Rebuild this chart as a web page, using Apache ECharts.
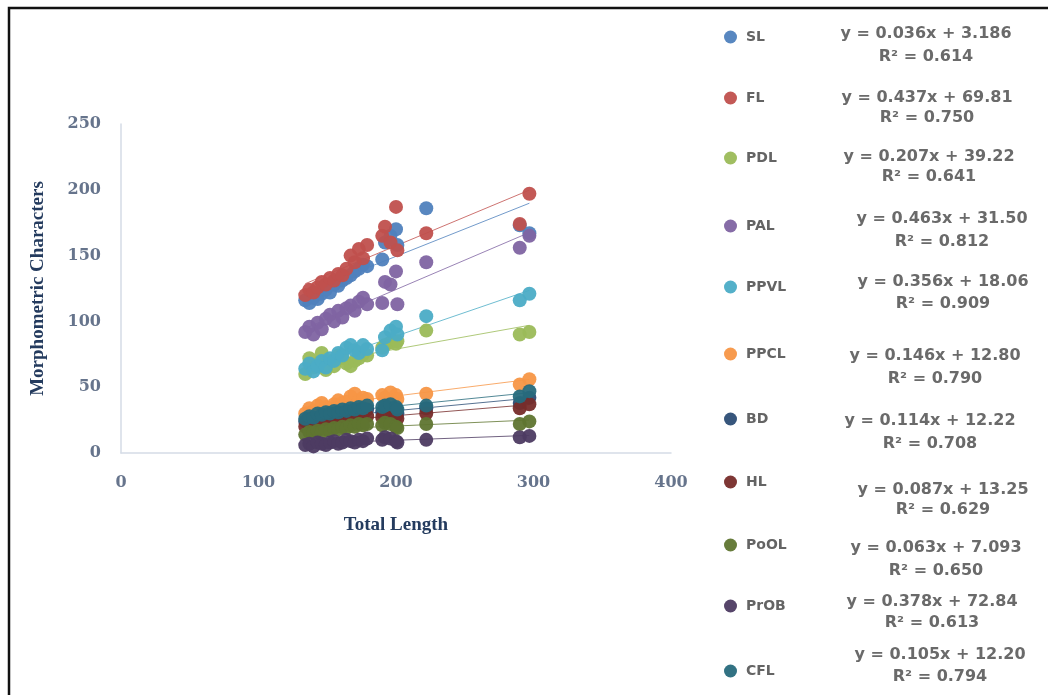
<!DOCTYPE html>
<html>
<head>
<meta charset="utf-8">
<script src="https://cdn.jsdelivr.net/npm/echarts@6/dist/echarts.min.js"></script>
<style>
html,body{margin:0;padding:0;background:#fff;}
#c{width:1048px;height:695px;}
</style>
</head>
<body>
<div id="c"></div>
<script>
// ---- data ----
const totalLength = [134, 137, 140, 143, 146, 149, 152, 155, 158, 161, 164, 167, 170, 173, 176, 179, 190, 192, 196, 200, 201, 222, 290, 297];

const seriesNames = ['SL', 'FL', 'PDL', 'PAL', 'PPVL', 'PPCL', 'BD', 'HL', 'PoOL', 'PrOB', 'CFL'];

const SL   = [116, 114, 118, 117, 121, 124, 122, 128, 127, 131, 133, 135, 138, 140, 143, 142, 147, 160, 165, 170, 158, 186, 173, 167];
const FL   = [120, 124, 122, 126, 130, 128, 133, 131, 136, 135, 140, 150, 145, 155, 148, 158, 165, 172, 160, 187, 154, 167, 174, 197];
const PDL  = [60, 72, 65, 68, 76, 63, 70, 66, 74, 72, 68, 66, 70, 72, 75, 74, 80, 82, 84, 83, 85, 93, 90, 92];
const PAL  = [92, 96, 90, 99, 94, 102, 105, 100, 108, 103, 110, 112, 108, 115, 118, 113, 114, 130, 128, 138, 113, 145, 156, 165];
const PPVL = [64, 68, 62, 66, 70, 65, 72, 70, 76, 74, 80, 82, 78, 76, 82, 79, 78, 88, 93, 96, 90, 104, 116, 121];
const PPCL = [30, 34, 32, 36, 38, 35, 34, 37, 40, 38, 39, 43, 45, 40, 42, 41, 44, 42, 46, 44, 41, 45, 52, 56];
const BD   = [24, 22, 26, 25, 27, 26, 28, 27, 29, 28, 30, 29, 31, 30, 32, 33, 31, 33, 34, 33, 30, 34, 38, 42];
const HL   = [20, 22, 21, 23, 22, 24, 25, 23, 26, 25, 27, 26, 28, 27, 29, 28, 27, 29, 30, 28, 26, 30, 34, 37];
const PoOL = [14, 16, 15, 17, 16, 18, 17, 19, 18, 20, 19, 21, 20, 22, 21, 22, 21, 23, 22, 20, 19, 22, 22, 24];
const PrOB = [6, 7, 5, 8, 7, 6, 8, 9, 7, 8, 10, 9, 8, 10, 9, 11, 10, 12, 11, 9, 8, 10, 12, 13];
const CFL  = [26, 28, 27, 30, 29, 31, 30, 32, 31, 33, 32, 34, 33, 35, 34, 36, 35, 36, 37, 35, 33, 36, 43, 47];

const equations = ['y = 0.036x + 3.186', 'y = 0.437x + 69.81', 'y = 0.207x + 39.22', 'y = 0.463x + 31.50',
  'y = 0.356x + 18.06', 'y = 0.146x + 12.80', 'y = 0.114x + 12.22', 'y = 0.087x + 13.25',
  'y = 0.063x + 7.093', 'y = 0.378x + 72.84', 'y = 0.105x + 12.20'];
const rSquared = ['R² = 0.614', 'R² = 0.750', 'R² = 0.641', 'R² = 0.812', 'R² = 0.909', 'R² = 0.790',
  'R² = 0.708', 'R² = 0.629', 'R² = 0.650', 'R² = 0.613', 'R² = 0.794'];

const xTicks = [0, 100, 200, 300, 400];
const yTicks = [0, 50, 100, 150, 200, 250];

// ---- styling / layout (not data) ----
const values = [SL, FL, PDL, PAL, PPVL, PPCL, BD, HL, PoOL, PrOB, CFL];
const colors = ['#4F81BD', '#C0504D', '#9BBB59', '#8064A2', '#4BACC6', '#F79646',
  '#2C4D75', '#772C2A', '#5F7530', '#4D3B62', '#276A7C'];
const legendY = [38, 99, 159, 227, 288, 355, 420, 483, 546, 607, 672];
const eqLayout = [
  [926, 34, 57], [927, 98, 118], [929, 157, 177], [942, 219, 242], [943, 282, 304],
  [935, 356, 379], [930, 421, 444], [943, 490, 510], [936, 548, 571], [932, 602, 623], [940, 655, 677]
];

function fit(xs, ys) {
  const n = xs.length;
  let sx = 0, sy = 0, sxx = 0, sxy = 0;
  for (let i = 0; i < n; i++) { sx += xs[i]; sy += ys[i]; sxx += xs[i] * xs[i]; sxy += xs[i] * ys[i]; }
  const b = (n * sxy - sx * sy) / (n * sxx - sx * sx);
  const a = (sy - b * sx) / n;
  return [a, b];
}

const xMin = Math.min(...totalLength), xMax = Math.max(...totalLength);
const series = [];
seriesNames.forEach((name, i) => {
  const [a, b] = fit(totalLength, values[i]);
  series.push({
    name: name + ' trend', type: 'line', symbol: 'none', z: 1, silent: true,
    lineStyle: { color: colors[i], width: 1, opacity: 0.8 },
    data: [[xMin, a + b * xMin], [xMax, a + b * xMax]]
  });
});
seriesNames.forEach((name, i) => {
  series.push({
    name: name, type: 'scatter', z: 2 + i, symbol: 'circle', symbolSize: 14,
    itemStyle: { color: colors[i], opacity: 0.95 },
    data: totalLength.map((x, k) => [x, values[i][k]])
  });
});

const legends = seriesNames.map((name, i) => ({
  data: [name], left: 724, top: legendY[i] - 8, orient: 'vertical',
  icon: 'circle', itemWidth: 13, itemHeight: 13, itemGap: 0, padding: 0,
  textStyle: { fontFamily: 'DejaVu Sans', fontWeight: 'bold', fontSize: 14, color: '#646464', padding: [0, 0, 0, 4] }
}));

const graphics = [
  { type: 'rect', shape: { x: 9, y: 8, width: 1200, height: 800 }, style: { fill: 'none', stroke: '#111', lineWidth: 2.5 }, silent: true }
];
const eqFont = { fontFamily: 'DejaVu Sans', fontWeight: 'bold', fontSize: 16, fill: '#6a6a6a', align: 'center', verticalAlign: 'middle' };
equations.forEach((t, i) => {
  graphics.push({ type: 'text', x: eqLayout[i][0], y: eqLayout[i][1], style: Object.assign({ text: t }, eqFont) });
  graphics.push({ type: 'text', x: eqLayout[i][0], y: eqLayout[i][2], style: Object.assign({ text: rSquared[i] }, eqFont) });
});

const tickFont = { fontFamily: 'DejaVu Serif', fontWeight: 'bold', fontSize: 16, color: '#66748c' };
const nameFont = { fontFamily: 'Liberation Serif', fontWeight: 'bold', fontSize: 19, color: '#243b5e' };

const chart = echarts.init(document.getElementById('c'), null, { renderer: 'canvas' });
chart.setOption({
  animation: false,
  backgroundColor: '#fff',
  grid: { left: 121, top: 124, right: 377, bottom: 242, containLabel: false },
  xAxis: {
    type: 'value', min: xTicks[0], max: xTicks[xTicks.length - 1], interval: 100,
    name: 'Total Length', nameLocation: 'middle', nameGap: 63, nameTextStyle: nameFont,
    axisLine: { lineStyle: { color: '#d5dbe6', width: 1.5 } },
    axisTick: { show: false }, splitLine: { show: false },
    axisLabel: Object.assign({ margin: 22 }, tickFont)
  },
  yAxis: {
    type: 'value', min: yTicks[0], max: yTicks[yTicks.length - 1], interval: 50,
    name: 'Morphometric Characters', nameLocation: 'middle', nameGap: 73, nameRotate: 90, nameTextStyle: nameFont,
    axisLine: { show: true, lineStyle: { color: '#d5dbe6', width: 1.5 } },
    axisTick: { show: false }, splitLine: { show: false },
    axisLabel: Object.assign({ margin: 20 }, tickFont)
  },
  legend: legends,
  graphic: graphics,
  series: series
});
</script>
</body>
</html>
